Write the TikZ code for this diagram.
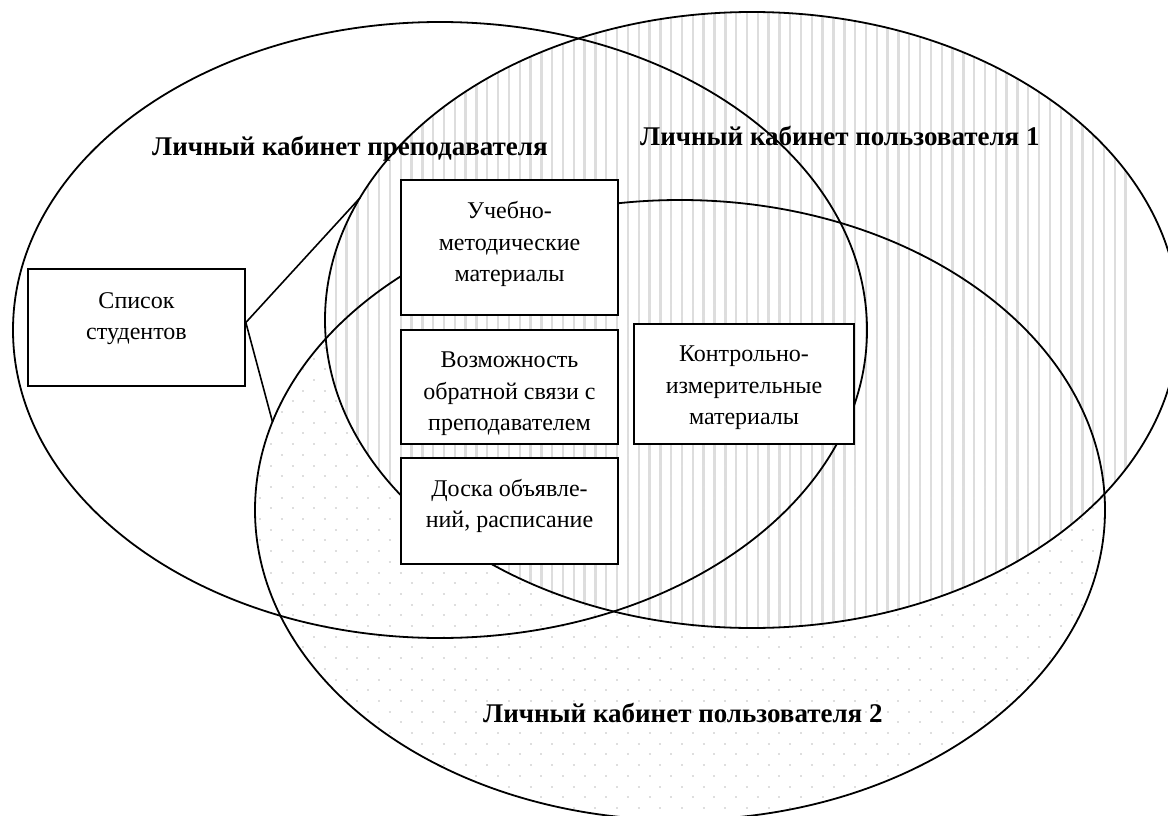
\documentclass[tikz,border=0pt]{standalone}
\usepackage{fontspec}
\setmainfont{Liberation Serif}
\definecolor{stripegray}{RGB}{221,221,221}
\definecolor{dotgray}{RGB}{222,222,222}
\begin{document}
\begin{tikzpicture}[x=1pt,y=-1pt,
  oval/.style={draw=black, line width=1.8pt},
  card/.style={draw=black, fill=white, line width=1.7pt, inner sep=0pt},
  cardtext/.style={align=center, inner sep=0pt, font=\fontsize{24}{31.5}\selectfont},
  heading/.style={anchor=base west, inner sep=0pt, font=\fontsize{27}{31}\selectfont\bfseries},
  link/.style={draw=black, line width=1.6pt},
  stripe/.style={draw=stripegray, line width=2.4pt},
  dotrow/.style={draw=dotgray, line width=2pt, dash pattern=on 2pt off 19.64pt}
]
\useasboundingbox (0,0) rectangle (1168,816);

% vertical hatching of the first user's cabinet
\begin{scope}
  \clip (752,320) ellipse [x radius=427, y radius=308];
  \foreach \i in {0,...,82}
    \draw[stripe] ({238.4+\i*10.82},0) -- ({238.4+\i*10.82},816);
\end{scope}

% dotted fill of the second user's cabinet
\begin{scope}
  \clip (680,510) ellipse [x radius=425, y radius=310];
  \foreach \r in {0,...,60} {
    \pgfmathsetmacro\yy{198+\r*10.7}
    \pgfmathsetmacro\ph{mod(\r,2)*10.82}
    \draw[dotrow, dash phase=\ph pt] (237.4,\yy) -- (1130,\yy);
  }
\end{scope}

% the three cabinets
\draw[oval] (440,330) ellipse [x radius=427, y radius=308];
\draw[oval] (752,320) ellipse [x radius=427, y radius=308];
\draw[oval] (680,510) ellipse [x radius=425, y radius=310];

\coordinate (u1edge) at ([shift={(752,320)}]203.4:427 and 308);
\coordinate (u2edge) at ([shift={(680,510)}]196.5:425 and 310);

% boxes
\node[card, minimum width=217, minimum height=117] (list) at (136.5,327.5) {};
\node[card, minimum width=217, minimum height=135] (um) at (509.5,247.5) {};
\node[card, minimum width=217, minimum height=114] (fb) at (509.5,387) {};
\node[card, minimum width=217, minimum height=106] (board) at (509.5,511) {};
\node[card, minimum width=220, minimum height=120] (km) at (744,384) {};

\draw[link] ([yshift=5pt]list.east) -- (u1edge);
\draw[link] ([yshift=5pt]list.east) -- (u2edge);

\node[cardtext] (list-t) at (136.5,318.5) {Список\\студентов};
\node[cardtext] (um-t) at (509.5,244) {Учебно-\\методические\\материалы};
\node[cardtext] (fb-t) at (509.5,394) {Возможность\\обратной связи с\\преподавателем};
\node[cardtext] (board-t) at (509.5,506) {Доска объявле-\\ний, расписание};
\node[cardtext] (km-t) at (744,388) {Контрольно-\\измерительные\\материалы};

% cabinet titles
\node[heading] (t-teach) at (152,155) {Личный кабинет преподавателя};
\node[heading] (t-u1) at (640,145) {Личный кабинет пользователя 1};
\node[heading] (t-u2) at (483,722) {Личный кабинет пользователя 2};
\end{tikzpicture}
\end{document}
